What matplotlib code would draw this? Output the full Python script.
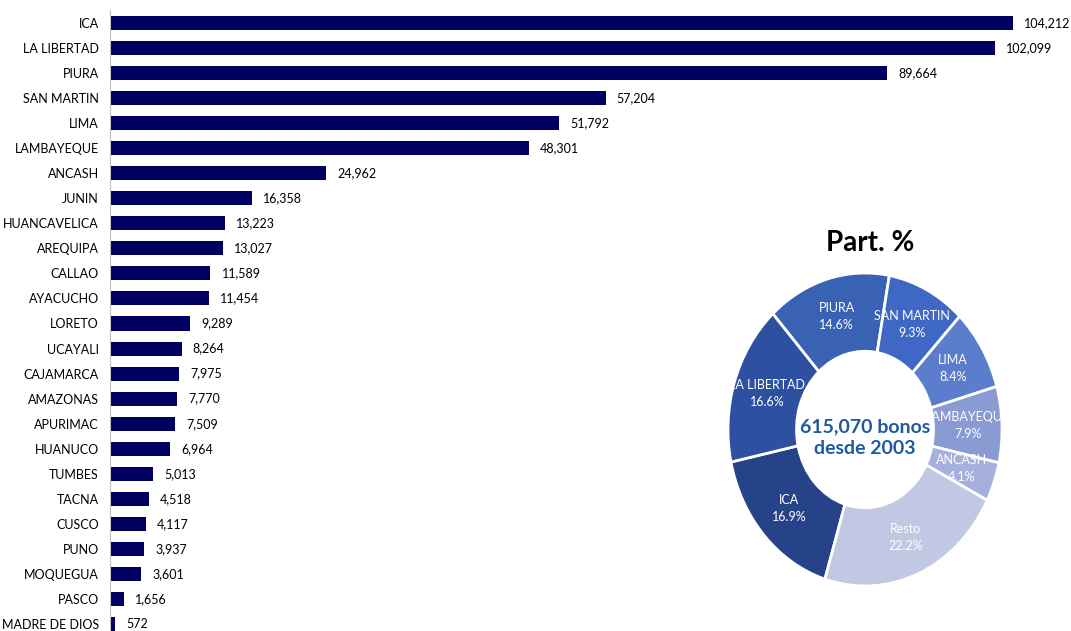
import matplotlib.pyplot as plt
import numpy as np

regiones = ['ICA', 'LA LIBERTAD', 'PIURA', 'SAN MARTIN', 'LIMA', 'LAMBAYEQUE',
            'ANCASH', 'JUNIN', 'HUANCAVELICA', 'AREQUIPA', 'CALLAO', 'AYACUCHO',
            'LORETO', 'UCAYALI', 'CAJAMARCA', 'AMAZONAS', 'APURIMAC', 'HUANUCO',
            'TUMBES', 'TACNA', 'CUSCO', 'PUNO', 'MOQUEGUA', 'PASCO', 'MADRE DE DIOS']
bonos = [104212, 102099, 89664, 57204, 51792, 48301, 24962, 16358, 13223, 13027,
         11589, 11454, 9289, 8264, 7975, 7770, 7509, 6964, 5013, 4518, 4117, 3937,
         3601, 1656, 572]

# dona: primeras 7 regiones + resto
top_n = 7
dona_labels = regiones[:top_n] + ['Resto']
dona_vals = bonos[:top_n] + [sum(bonos[top_n:])]
dona_colors = ['#26438A', '#2D51A0', '#3A62B4', '#3E68C4', '#5B7DCB',
               '#8A9AD2', '#A5B1DC', '#C0C8E4']
total = sum(bonos)

plt.rcParams['font.family'] = ['Lato', 'DejaVu Sans']

fig = plt.figure(figsize=(10.71, 6.31), dpi=100)

# barras
ax = fig.add_axes([110/1071, -5.5/631, 961/1071, 626/631])
y = range(len(regiones))
ax.barh(y, bonos, height=0.56, color='#000060')
ax.set_ylim(len(regiones) - 0.5, -0.5)
ax.set_xlim(0, 110900)
ax.set_yticks(list(y))
ax.set_yticklabels(regiones, fontsize=9)
ax.tick_params(axis='y', length=0, pad=8)
ax.set_xticks([])
for s in ['top', 'right', 'bottom']:
    ax.spines[s].set_visible(False)
ax.spines['left'].set_color('#BFBFBF')
for i, v in enumerate(bonos):
    ax.annotate(f'{v:,}', (v, i), xytext=(8, 0), textcoords='offset points',
                va='center', ha='left', fontsize=9, annotation_clip=False)

# dona
ax2 = fig.add_axes([728/1071, (631-586)/631, 274/1071, 313/631])
ax2.pie(dona_vals, colors=dona_colors, startangle=-107,
        counterclock=False, radius=1,
        wedgeprops=dict(width=0.5, edgecolor='white', linewidth=2))
ax2.set_aspect('auto')
ax2.set_xlim(-1, 1)
ax2.set_ylim(-1, 1)
ang = -107.0
for lab, v in zip(dona_labels, dona_vals):
    span = 360.0 * v / total
    mid = np.deg2rad(ang - span / 2)
    ang -= span
    ax2.text(0.75 * np.cos(mid), 0.75 * np.sin(mid),
             f'{lab}\n{100 * v / total:.1f}%', ha='center', va='center',
             color='white', fontsize=9, linespacing=1.5)
ax2.text(0, -0.05, f'{total:,} bonos\ndesde 2003', ha='center', va='center',
         color='#1F5AA0', fontsize=14, fontweight='bold', linespacing=1.35)

fig.text(870/1071, 1 - 243/631, 'Part. %', ha='center', va='center',
         fontsize=20, fontweight='bold')

fig.savefig('out.png', dpi=100)
